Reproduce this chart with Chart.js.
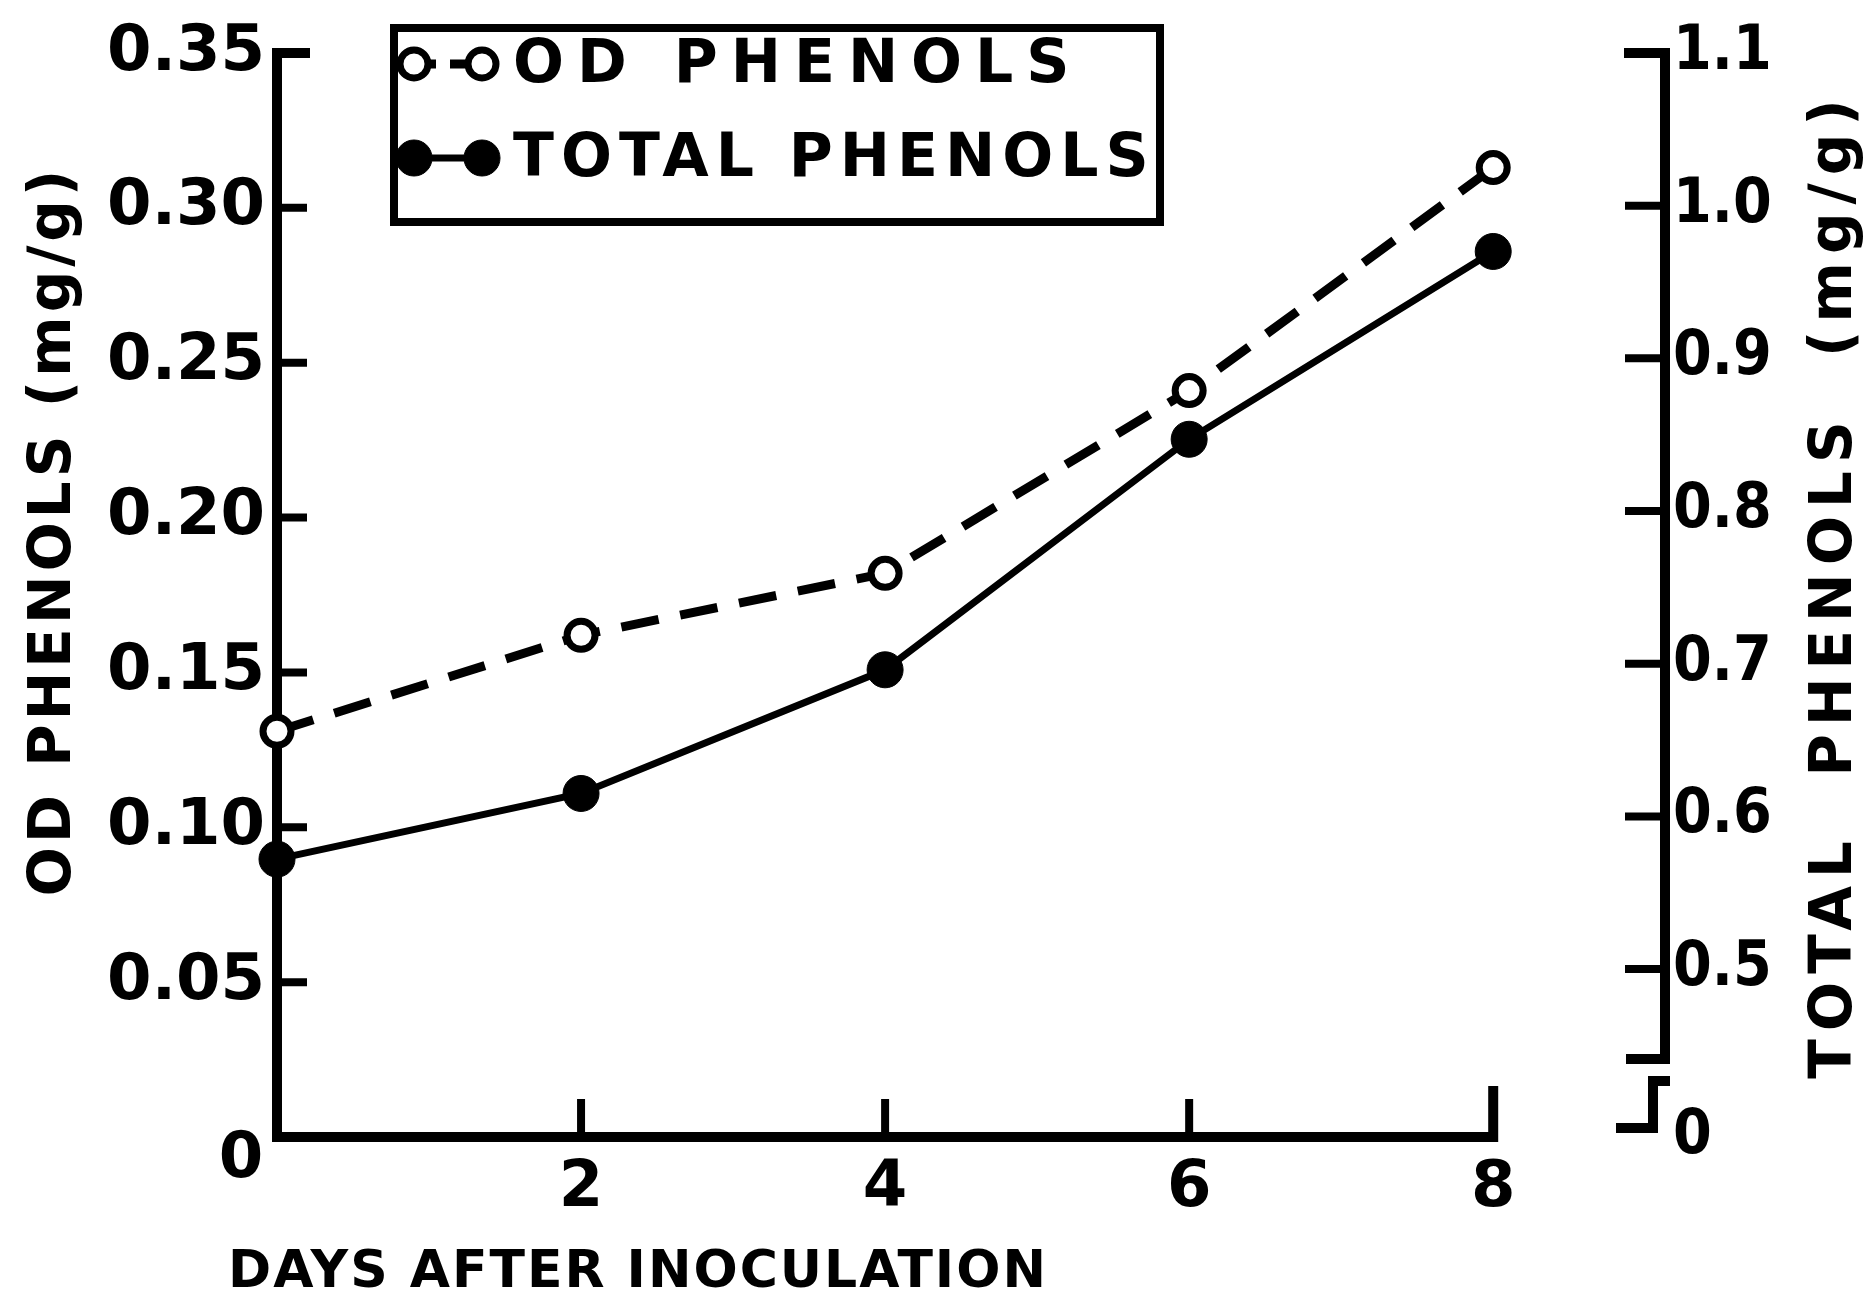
<!DOCTYPE html>
<html>
<head>
<meta charset="utf-8">
<script src="https://cdn.jsdelivr.net/npm/chart.js@4.4.1/dist/chart.umd.min.js"></script>
<style>
  html, body { margin: 0; padding: 0; background: #fff; }
  #wrap { width: 1871px; height: 1298px; }
</style>
</head>
<body>
<div id="wrap"><canvas id="phenolChart" width="1871" height="1298"></canvas></div>
<script>
// values
const days = [0, 2, 4, 6, 8];
const odPhenols = [0.131, 0.162, 0.182, 0.241, 0.313];      // left axis, mg/g
const totalPhenols = [0.572, 0.615, 0.696, 0.847, 0.97];    // right axis, mg/g
const dayTicks = [2, 4, 6, 8];
const odTicks = [0.05, 0.10, 0.15, 0.20, 0.25, 0.30, 0.35];
const totalTicks = [0.5, 0.6, 0.7, 0.8, 0.9, 1.0, 1.1];
const totalAxisBreak = 0.39;   // bottom of the broken right axis, labelled "0"

const FONT = "'DejaVu Sans', sans-serif";
const NARROW = "'Liberation Sans Narrow', 'DejaVu Sans Condensed', 'DejaVu Sans', sans-serif";

function toPoints(values) {
  return days.map((d, i) => ({ x: d, y: values[i] }));
}

function stroke(ctx, pts) {
  ctx.beginPath();
  ctx.moveTo(pts[0][0], pts[0][1]);
  for (let i = 1; i < pts.length; i++) ctx.lineTo(pts[i][0], pts[i][1]);
  ctx.stroke();
}

// axes drawn by hand: inward ticks, capped ends, broken right axis
const handAxes = {
  id: 'handAxes',
  beforeDatasetsDraw(chart) {
    const { ctx, scales: { x, y, y1 } } = chart;
    const x0 = x.getPixelForValue(0);
    const x8 = x.getPixelForValue(8);
    const yBase = y.getPixelForValue(0);
    const yTop = y.getPixelForValue(0.35);
    const xr = chart.chartArea.right;

    ctx.save();
    ctx.strokeStyle = '#000';
    ctx.lineCap = 'square';
    ctx.lineJoin = 'miter';

    ctx.lineWidth = 10;
    stroke(ctx, [[x0 + 28, yTop], [x0, yTop], [x0, yBase], [x8, yBase], [x8, yBase - 46]]);

    ctx.lineWidth = 8;
    odTicks.slice(0, -1).forEach(v => {
      const py = y.getPixelForValue(v);
      stroke(ctx, [[x0, py], [x0 + 26, py]]);
    });
    dayTicks.slice(0, -1).forEach(d => {
      const px = x.getPixelForValue(d);
      stroke(ctx, [[px, yBase], [px, yBase - 34]]);
    });

    // right axis with a break below 0.5
    const yr5 = y1.getPixelForValue(0.5);
    const yr0 = y1.getPixelForValue(totalAxisBreak) - 9;
    ctx.lineWidth = 10;
    stroke(ctx, [[xr - 36, y1.getPixelForValue(1.1)], [xr, y1.getPixelForValue(1.1)], [xr, yr5 + 90], [xr - 34, yr5 + 90]]);
    stroke(ctx, [[xr, yr5 + 112], [xr - 12, yr5 + 112], [xr - 12, yr0], [xr - 44, yr0]]);
    ctx.lineWidth = 8;
    totalTicks.slice(0, -1).forEach(v => {
      const py = y1.getPixelForValue(v);
      stroke(ctx, [[xr, py], [xr - 36, py]]);
    });
    ctx.restore();
  }
};

// titles, origin label and boxed legend
const annotations = {
  id: 'annotations',
  afterDraw(chart) {
    const { ctx, chartArea: area } = chart;
    const sets = chart.data.datasets;
    ctx.save();
    ctx.fillStyle = '#000';
    ctx.strokeStyle = '#000';
    ctx.textBaseline = 'middle';

    // origin "0"
    ctx.textAlign = 'center';
    ctx.font = 'bold 64px ' + FONT;
    ctx.fillText('0', area.left - 36, area.bottom + 23);

    // x title
    ctx.font = 'bold 52px ' + FONT;
    ctx.letterSpacing = '2px';
    ctx.fillText('DAYS AFTER INOCULATION', 638, area.bottom + 136);

    // left title
    ctx.save();
    ctx.translate(55, 531);
    ctx.rotate(-Math.PI / 2);
    ctx.font = 'bold 58px ' + FONT;
    ctx.letterSpacing = '4px';
    ctx.fillText('OD PHENOLS (mg/g)', 0, 0);
    ctx.restore();

    // right title, also reading upwards
    ctx.save();
    ctx.translate(1836, 585);
    ctx.rotate(-Math.PI / 2);
    ctx.font = 'bold 58px ' + FONT;
    ctx.letterSpacing = '8px';
    ctx.fillText('TOTAL  PHENOLS  (mg/g)', 0, 0);
    ctx.restore();

    // legend box
    const bx = 394, by = 28, bw = 766, bh = 194;
    ctx.lineWidth = 8;
    ctx.strokeRect(bx, by, bw, bh);
    const rows = [by + 36, by + 130];
    const spacing = ['13px', '7px'];
    sets.forEach((ds, i) => {
      const ry = rows[i];
      const xa = bx + 20, xb = bx + 88;
      ctx.lineWidth = ds.borderWidth;
      ctx.setLineDash(ds.borderDash ? [22, 14] : []);
      stroke(ctx, [[xa, ry], [xb, ry]]);
      ctx.setLineDash([]);
      [xa, xb].forEach(px => {
        ctx.beginPath();
        ctx.arc(px, ry, ds.pointRadius, 0, Math.PI * 2);
        ctx.fillStyle = ds.pointBackgroundColor;
        ctx.fill();
        ctx.lineWidth = ds.pointBorderWidth;
        ctx.stroke();
      });
      ctx.fillStyle = '#000';
      ctx.textAlign = 'left';
      ctx.font = 'bold 60px ' + FONT;
      ctx.letterSpacing = spacing[i];
      ctx.fillText(ds.label, bx + 119, ry + 2);
    });
    ctx.restore();
  }
};

const tickFont = { family: FONT, size: 64, weight: 'bold' };

new Chart(document.getElementById('phenolChart').getContext('2d'), {
  type: 'line',
  data: {
    datasets: [
      {
        label: 'OD PHENOLS',
        data: toPoints(odPhenols),
        yAxisID: 'y',
        borderColor: '#000',
        borderWidth: 9,
        borderDash: [38, 22],
        pointRadius: 14,
        pointBorderWidth: 7,
        pointBackgroundColor: '#fff',
        pointBorderColor: '#000',
        tension: 0,
        clip: false
      },
      {
        label: 'TOTAL PHENOLS',
        data: toPoints(totalPhenols),
        yAxisID: 'y1',
        borderColor: '#000',
        borderWidth: 7,
        pointRadius: 18,
        pointBorderWidth: 1,
        pointBackgroundColor: '#000',
        pointBorderColor: '#000',
        tension: 0,
        clip: false
      }
    ]
  },
  options: {
    responsive: false,
    animation: false,
    layout: { padding: { top: 53, left: 0, right: 0, bottom: 0 } },
    plugins: {
      legend: { display: false },
      tooltip: { enabled: false }
    },
    scales: {
      x: {
        type: 'linear',
        min: 0,
        max: 9.13,
        afterBuildTicks: s => { s.ticks = dayTicks.map(v => ({ value: v })); },
        afterFit: s => { s.height = 161; },
        grid: { display: false, drawTicks: false },
        border: { display: false },
        ticks: { color: '#000', font: tickFont, padding: 14, autoSkip: false, maxRotation: 0 }
      },
      y: {
        position: 'left',
        min: 0,
        max: 0.35,
        afterBuildTicks: s => { s.ticks = odTicks.map(v => ({ value: v })); },
        afterFit: s => { s.width = 277; },
        grid: { display: false, drawTicks: false },
        border: { display: false },
        ticks: { color: '#000', font: tickFont, padding: 12, autoSkip: false, callback: v => v.toFixed(2) }
      },
      y1: {
        position: 'right',
        min: totalAxisBreak,
        max: 1.1,
        afterBuildTicks: s => { s.ticks = [totalAxisBreak].concat(totalTicks).map(v => ({ value: v })); },
        afterFit: s => { s.width = 206; },
        grid: { display: false, drawTicks: false },
        border: { display: false },
        ticks: {
          color: '#000', font: { family: NARROW, size: 62, weight: 'bold' }, padding: 8, autoSkip: false,
          callback: v => (v === totalAxisBreak ? '0' : v.toFixed(1))
        }
      }
    }
  },
  plugins: [handAxes, annotations]
});
</script>
</body>
</html>
